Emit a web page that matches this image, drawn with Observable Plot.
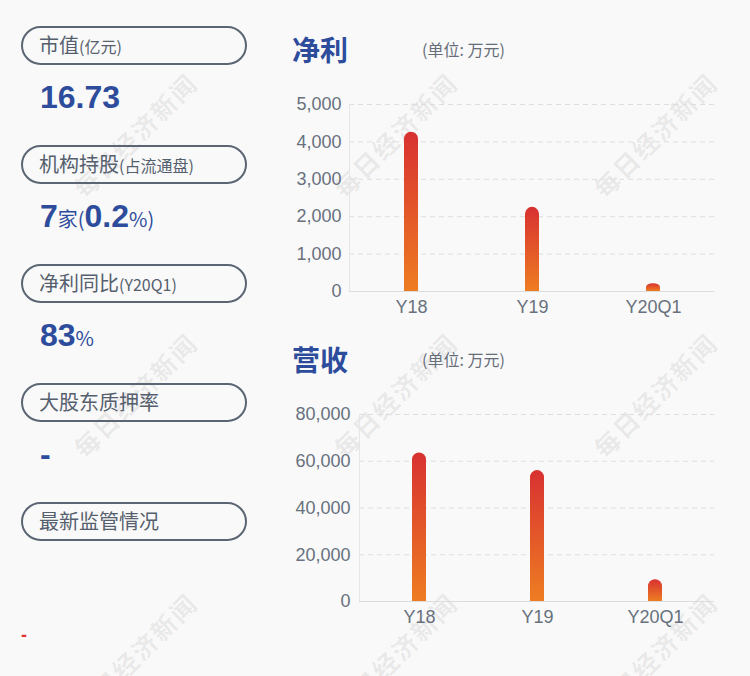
<!DOCTYPE html>
<html>
<head>
<meta charset="utf-8">
<script src="https://cdn.jsdelivr.net/npm/d3@7"></script>
<script src="https://cdn.jsdelivr.net/npm/@observablehq/plot@0.6"></script>
<style>
  html, body { margin:0; padding:0; background:#f9f9f9; }
  body { width:750px; height:676px; position:relative; overflow:hidden;
         font-family:"Liberation Sans","Noto Sans CJK SC",sans-serif; }
  .abs { position:absolute; }
  .pill { position:absolute; left:21px; width:222px; height:35px; border:2px solid #5b6573;
          border-radius:20px; color:#555f6d; }
  .pill span.lab { position:absolute; left:16px; top:4px; font-size:20px; line-height:26px;
                   font-family:"Noto Sans CJK SC",sans-serif; white-space:nowrap; }
  .pill small { font-size:16px; }
  .val { position:absolute; left:40px; color:#2e4c9c; white-space:nowrap; line-height:1; }
  .big { font-size:32px; font-weight:bold; font-family:"Liberation Sans",sans-serif; }
  .sm { font-size:20px; font-family:"Noto Sans CJK SC","Liberation Sans",sans-serif; }
  .title { position:absolute; color:#2e4c9c; font-size:28px; font-weight:bold;
           font-family:"Noto Sans CJK SC",sans-serif; line-height:1; }
  .unit { position:absolute; color:#666e7a; font-size:16px; font-family:"Noto Sans CJK SC",sans-serif; line-height:1; }
  .wm { position:absolute; width:200px; text-align:center; font-size:25px; font-weight:bold;
        color:rgba(0,0,0,0.075); font-family:"Noto Sans CJK SC",sans-serif; letter-spacing:2px;
        transform:translate(-50%,-50%) rotate(-45deg); white-space:nowrap; line-height:1; pointer-events:none; }
</style>
</head>
<body>
<svg width="0" height="0" style="position:absolute">
  <defs>
    <linearGradient id="gradTop" x1="0" y1="0" x2="0" y2="1">
      <stop offset="0" stop-color="#d83131"/>
      <stop offset="1" stop-color="#ee7d22"/>
    </linearGradient>
    <linearGradient id="gradBottom" x1="0" y1="0" x2="0" y2="1">
      <stop offset="0" stop-color="#e35729"/>
      <stop offset="1" stop-color="#ee7d22"/>
    </linearGradient>
  </defs>
</svg>

<div id="wms"></div>

<div class="pill" style="top:26px"><span class="lab">市值<small>(亿元)</small></span></div>
<div class="val" style="top:81px"><span class="big">16.73</span></div>

<div class="pill" style="top:145px"><span class="lab">机构持股<small>(占流通盘)</small></span></div>
<div class="val" style="top:200px"><span class="big">7</span><span class="sm">家(</span><span class="big">0.2</span><span class="sm">%)</span></div>

<div class="pill" style="top:264px"><span class="lab">净利同比<small>(Y20Q1)</small></span></div>
<div class="val" style="top:319px"><span class="big">83</span><span class="sm">%</span></div>

<div class="pill" style="top:383px"><span class="lab">大股东质押率</span></div>
<div class="val" style="top:438px"><span class="big">-</span></div>

<div class="pill" style="top:502px"><span class="lab">最新监管情况</span></div>
<div class="val" style="left:21px; top:626px; color:#e03232; font-size:18px; font-weight:bold;">-</div>

<div class="title" style="left:292px; top:35px">净利</div>
<div class="unit" style="left:422px; top:41px">(单位: 万元)</div>
<div class="title" style="left:292px; top:345px">营收</div>
<div class="unit" style="left:422px; top:351px">(单位: 万元)</div>

<div id="c1" class="abs" style="left:280px; top:80px"></div>
<div id="c2" class="abs" style="left:280px; top:390px"></div>

<script>
const categories = ["Y18", "Y19", "Y20Q1"];
const profitValues = [4260, 2250, 210];
const revenueValues = [63500, 56000, 9300];
const profitTicks = [0, 1000, 2000, 3000, 4000, 5000];
const revenueTicks = [0, 20000, 40000, 60000, 80000];
const watermark = "每日经济新闻";

function chart(values, ticks, marginLeft, tickPadding) {
  const table = categories.map((c, i) => ({cat: c, v: values[i]}));
  return Plot.plot({
    width: 450,
    height: 250,
    marginLeft, marginRight: 16, marginTop: 24, marginBottom: 39,
    style: {background: "transparent", color: "#68717d", fontSize: "18px",
            fontFamily: "'Liberation Sans', sans-serif", overflow: "visible"},
    x: {domain: categories, paddingInner: 0.885, paddingOuter: 0.4425, label: null},
    y: {domain: [0, ticks[ticks.length - 1]], label: null},
    marks: [
      Plot.gridY(ticks.filter(t => t > 0), {stroke: "#dedede", strokeOpacity: 1, strokeDasharray: "5,4"}),
      Plot.frame({anchor: "left", stroke: "#e6e6e6"}),
      Plot.ruleY([0], {stroke: "#dcdcdc"}),
      Plot.barY(table, {x: "cat", y: "v", fill: "url(#gradTop)", rx: 7}),
      Plot.barY(table, {x: "cat", y1: 0, y2: d => d.v / 2, fill: "url(#gradBottom)"}),
      Plot.axisY({ticks, tickSize: 0, tickPadding, tickFormat: d3.format(","), label: null}),
      Plot.axisX({tickSize: 0, tickPadding: 9, label: null})
    ]
  });
}

document.getElementById("c1").appendChild(chart(profitValues, profitTicks, 69, 8));
document.getElementById("c2").appendChild(chart(revenueValues, revenueTicks, 79, 9));

const wms = document.getElementById("wms");
[135, 395, 655].forEach(cy => [135, 395, 655].forEach(cx => {
  const d = document.createElement("div");
  d.className = "wm";
  d.style.left = cx + "px";
  d.style.top = cy + "px";
  d.textContent = watermark;
  wms.appendChild(d);
}));
</script>
</body>
</html>
